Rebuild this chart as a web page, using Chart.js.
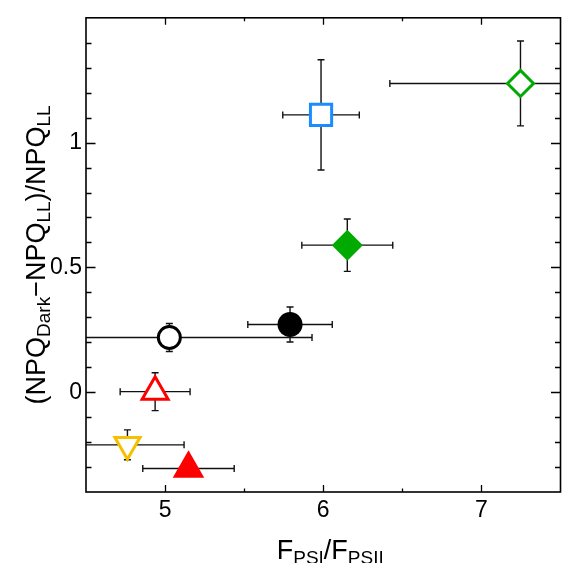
<!DOCTYPE html>
<html><head><meta charset="utf-8">
<script src="https://cdn.jsdelivr.net/npm/chart.js@4/dist/chart.umd.min.js"></script>
<style>html,body{margin:0;padding:0;background:#fff;}#wrap{width:562px;height:563px;position:relative;}</style>
</head><body><div id="wrap"><canvas id="c" width="562" height="563"></canvas></div>
<script>
// ---- data ----
const seriesNames = ['Open square', 'Open diamond', 'Filled diamond', 'Filled circle', 'Open circle', 'Open triangle', 'Open inverted triangle', 'Filled triangle'];
const xValues = [5.986, 7.247, 6.152, 5.79, 5.027, 4.937, 4.762, 5.148];
const yValues = [1.111, 1.237, 0.589, 0.271, 0.219, 0.002, -0.211, -0.306];
const xErrors = [0.242, 0.826, 0.2875, 0.267, 0.902, 0.221, 0.358, 0.289];
const yErrors = [0.221, 0.170, 0.105, 0.070, 0.056, 0.076, 0.060, 0.030];
const xTickValues = [5, 6, 7];
const yTickValues = [0, 0.5, 1];
const xMinorTickValues = [5.5, 6.5];
const yMinorTickValues = [-0.3, -0.2, -0.1, 0.1, 0.2, 0.3, 0.4, 0.6, 0.7, 0.8, 0.9, 1.1, 1.2, 1.3, 1.4];
const xRange = [4.5, 7.5];
const yRange = [-0.4, 1.5];
const xTitleParts = [['F', 0], ['PSI', 1], ['/F', 0], ['PSII', 1]];
const yTitleParts = [['(NPQ', 0], ['Dark', 1], ['\u2212NPQ', 0], ['LL', 1], [')/NPQ', 0], ['LL', 1]];

// ---- styles (separate from data) ----
const markerShapes = ['rect', 'rectRot', 'rectRot', 'circle', 'circle', 'triangle', 'triangle', 'triangle'];
const markerColors = ['#1a8cff', '#00aa00', '#00aa00', '#000000', '#000000', '#ff0000', '#f5c000', '#ff0000'];
const markerFilled = [false, false, true, true, false, false, false, true];
const markerRadii = [15, 13, 15.5, 12.5, 11, 15, 14.5, 18.2];
const markerRotations = [0, 0, 0, 0, 0, 0, 180, 0];
const FONT = "'Liberation Sans', Arial, Helvetica, sans-serif";

const datasets = seriesNames.map((name, i) => ({
  label: name,
  data: [{x: xValues[i], y: yValues[i], xErr: xErrors[i], yErr: yErrors[i]}],
  pointStyle: markerShapes[i],
  pointRadius: markerRadii[i],
  pointHoverRadius: markerRadii[i],
  pointRotation: markerRotations[i],
  backgroundColor: markerFilled[i] ? markerColors[i] : '#ffffff',
  borderColor: markerColors[i],
  borderWidth: markerFilled[i] ? 0 : 3,
  pointBorderWidth: markerFilled[i] ? 0 : 3,
  clip: false
}));

const errorBarPlugin = {
  id: 'errorBars',
  beforeDatasetsDraw(chart) {
    const {ctx, chartArea: a, scales: {x, y}} = chart;
    ctx.save();
    ctx.beginPath();
    ctx.rect(a.left, a.top, a.right - a.left, a.bottom - a.top);
    ctx.clip();
    ctx.strokeStyle = '#111';
    ctx.lineWidth = 1.4;
    const cap = 3.5;
    chart.data.datasets.forEach(ds => {
      ds.data.forEach(p => {
        const px = x.getPixelForValue(p.x), py = y.getPixelForValue(p.y);
        const xl = x.getPixelForValue(p.x - p.xErr), xr = x.getPixelForValue(p.x + p.xErr);
        const yt = y.getPixelForValue(p.y + p.yErr), yb = y.getPixelForValue(p.y - p.yErr);
        ctx.beginPath();
        ctx.moveTo(xl, py); ctx.lineTo(xr, py);
        ctx.moveTo(xl, py - cap); ctx.lineTo(xl, py + cap);
        ctx.moveTo(xr, py - cap); ctx.lineTo(xr, py + cap);
        ctx.moveTo(px, yt); ctx.lineTo(px, yb);
        ctx.moveTo(px - cap, yt); ctx.lineTo(px + cap, yt);
        ctx.moveTo(px - cap, yb); ctx.lineTo(px + cap, yb);
        ctx.stroke();
      });
    });
    ctx.restore();
  }
};

function drawParts(ctx, parts, mainSize, subSize, subShift) {
  let total = 0;
  parts.forEach(([t, s]) => {
    ctx.font = (s ? subSize : mainSize) + 'px ' + FONT;
    total += ctx.measureText(t).width;
  });
  let cx = -total / 2;
  parts.forEach(([t, s]) => {
    ctx.font = (s ? subSize : mainSize) + 'px ' + FONT;
    ctx.fillText(t, cx, s ? subShift : 0);
    cx += ctx.measureText(t).width;
  });
}

const framePlugin = {
  id: 'frame',
  afterDraw(chart) {
    const {ctx, chartArea: a, scales: {x, y}} = chart;
    ctx.save();
    ctx.strokeStyle = '#000';
    ctx.lineWidth = 1.3;
    ctx.beginPath();
    const tick = (v, len, axis) => {
      if (axis === 'x') {
        const px = Math.round(x.getPixelForValue(v)) + 0.5;
        ctx.moveTo(px, a.bottom); ctx.lineTo(px, a.bottom - len);
        ctx.moveTo(px, a.top); ctx.lineTo(px, a.top + len);
      } else {
        const py = Math.round(y.getPixelForValue(v)) + 0.5;
        ctx.moveTo(a.left, py); ctx.lineTo(a.left + len, py);
        ctx.moveTo(a.right, py); ctx.lineTo(a.right - len, py);
      }
    };
    xTickValues.forEach(v => tick(v, 7, 'x'));
    xMinorTickValues.forEach(v => tick(v, 3.5, 'x'));
    yTickValues.forEach(v => tick(v, 9.5, 'y'));
    yMinorTickValues.forEach(v => tick(v, 5.5, 'y'));
    ctx.stroke();
    ctx.lineWidth = 1.6;
    ctx.strokeRect(a.left, a.top, a.right - a.left, a.bottom - a.top);

    ctx.fillStyle = '#000';
    ctx.textBaseline = 'alphabetic';
    // x title
    ctx.save();
    ctx.translate((a.left + a.right) / 2 + 7, 559);
    drawParts(ctx, xTitleParts, 27, 19, 5);
    ctx.restore();
    // y title
    ctx.save();
    ctx.translate(45, (a.top + a.bottom) / 2);
    ctx.rotate(-Math.PI / 2);
    drawParts(ctx, yTitleParts, 27, 19, 5);
    ctx.restore();
    ctx.restore();
  }
};

new Chart(document.getElementById('c'), {
  type: 'scatter',
  data: {datasets},
  options: {
    responsive: false,
    animation: false,
    events: [],
    layout: {autoPadding: false, padding: {left: 0, right: 1.5, top: 17.5, bottom: 0}},
    plugins: {legend: {display: false}, tooltip: {enabled: false}},
    scales: {
      x: {
        type: 'linear', min: xRange[0], max: xRange[1],
        grid: {display: false, drawTicks: false},
        border: {display: false},
        afterBuildTicks: s => { s.ticks = xTickValues.map(v => ({value: v})); },
        afterFit: s => { s.height = 71; },
        ticks: {font: {family: FONT, size: 23}, color: '#000', padding: 5, maxRotation: 0,
                callback: v => String(v)}
      },
      y: {
        type: 'linear', min: yRange[0], max: yRange[1],
        grid: {display: false, drawTicks: false},
        border: {display: false},
        afterBuildTicks: s => { s.ticks = yTickValues.map(v => ({value: v})); },
        afterFit: s => { s.width = 86; },
        ticks: {font: {family: FONT, size: 23}, color: '#000', padding: 4,
                callback: v => String(v)}
      }
    }
  },
  plugins: [errorBarPlugin, framePlugin]
});
</script></body></html>
